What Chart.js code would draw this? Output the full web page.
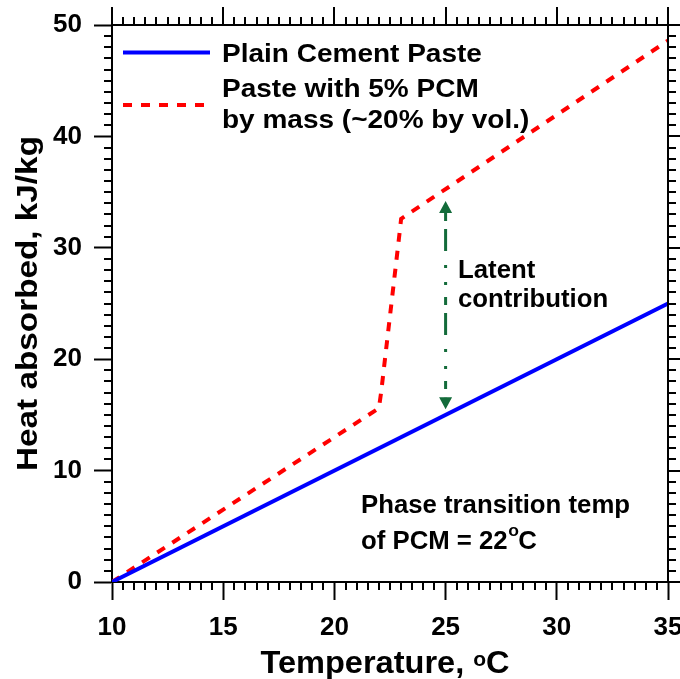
<!DOCTYPE html>
<html>
<head>
<meta charset="utf-8">
<script src="https://cdn.jsdelivr.net/npm/chart.js@4.4.1/dist/chart.umd.min.js"></script>
<style>
  html, body { margin: 0; padding: 0; background: #fff; }
  #wrap { width: 680px; height: 679px; }
</style>
</head>
<body>
<div id="wrap"><canvas id="c" width="680" height="679"></canvas></div>
<script>
// Heat absorbed vs temperature, plain paste and paste with PCM
const plainTemp = [10, 35];
const plainHeat = [0, 25];
const pcmTemp = [10, 22.0, 22.1, 22.9, 23.0, 35];
const pcmHeat = [0, 15.6, 17.0, 30.8, 32.6, 48.6];

const xTickValues = [10, 15, 20, 25, 30, 35];
const yTickValues = [0, 10, 20, 30, 40, 50];
const xMinorStep = 0.5;
const yMinorStep = 1;

const legendText = [
  ['Plain Cement Paste'],
  ['Paste with 5% PCM', 'by mass (~20% by vol.)']
];

// Latent heat arrow at 25 °C
const latentTemp = [25];
const latentRange = [15.5, 34.2];
const latentText = ['Latent', 'contribution'];
const transitionText = ['Phase transition temp', 'of PCM = 22', 'o', 'C'];
const xTitle = ['Temperature, ', 'o', 'C'];
const yTitle = 'Heat absorbed, kJ/kg';

const FONT = '"Liberation Sans", Arial, Helvetica, sans-serif';
const toPoints = (xs, ys) => xs.map((x, i) => ({ x, y: ys[i] }));

// text drawn slightly widened along its baseline
function wideText(ctx, str, x, y, size, stretch) {
  ctx.save();
  ctx.font = 'bold ' + size + 'px ' + FONT;
  ctx.translate(x, y);
  ctx.scale(stretch, 1);
  ctx.fillText(str, 0, 0);
  const w = ctx.measureText(str).width * stretch;
  ctx.restore();
  return w;
}
function textWidth(ctx, str, size, stretch) {
  ctx.save();
  ctx.font = 'bold ' + size + 'px ' + FONT;
  const w = ctx.measureText(str).width * stretch;
  ctx.restore();
  return w;
}

const framePlugin = {
  id: 'frame',
  afterDraw(chart) {
    const { ctx, chartArea: a, scales: { x, y } } = chart;
    ctx.save();
    ctx.strokeStyle = '#000';
    ctx.lineWidth = 2;
    ctx.lineCap = 'butt';
    // top and right border
    ctx.beginPath();
    ctx.moveTo(a.left - 1, a.top);
    ctx.lineTo(a.right, a.top);
    ctx.lineTo(a.right, a.bottom + 1);
    ctx.stroke();

    const isMajor = (v, list) => list.some(t => Math.abs(t - v) < 1e-6);
    ctx.beginPath();
    for (let v = x.min; v <= x.max + 1e-6; v += xMinorStep) {
      const px = Math.round(x.getPixelForValue(v));
      const major = isMajor(v, xTickValues);
      const len = major ? 18 : 8;
      if (!major) { ctx.moveTo(px, a.bottom); ctx.lineTo(px, a.bottom + len); }
      ctx.moveTo(px, a.top); ctx.lineTo(px, a.top - len);
    }
    for (let v = y.min; v <= y.max + 1e-6; v += yMinorStep) {
      const py = Math.round(y.getPixelForValue(v));
      const major = isMajor(v, yTickValues);
      const len = major ? 18 : 8;
      if (!major) { ctx.moveTo(a.left, py); ctx.lineTo(a.left - len, py); }
      ctx.moveTo(a.right, py); ctx.lineTo(a.right + len, py);
    }
    ctx.stroke();

    // legend
    const ds = chart.data.datasets;
    const legendRows = [52.5, 105];
    const textRows = [[62], [97, 128]];
    ctx.fillStyle = '#000';
    ctx.textBaseline = 'alphabetic';
    ctx.textAlign = 'left';
    ds.forEach((d, i) => {
      ctx.save();
      ctx.strokeStyle = d.borderColor;
      ctx.lineWidth = d.borderWidth;
      ctx.setLineDash(d.borderDash || []);
      ctx.beginPath();
      ctx.moveTo(123, legendRows[i]);
      ctx.lineTo(210, legendRows[i]);
      ctx.stroke();
      ctx.restore();
      legendText[i].forEach((t, j) => wideText(ctx, t, 222, textRows[i][j], 25, 1.12));
    });

    // latent contribution arrow
    const ax = x.getPixelForValue(latentTemp[0]);
    const yTop = y.getPixelForValue(latentRange[1]);
    const yBot = y.getPixelForValue(latentRange[0]);
    const green = '#136b3a';
    const head = 12, half = 6.5;
    ctx.fillStyle = green;
    ctx.beginPath();
    ctx.moveTo(ax, yTop); ctx.lineTo(ax - half, yTop + head); ctx.lineTo(ax + half, yTop + head); ctx.closePath();
    ctx.moveTo(ax, yBot); ctx.lineTo(ax - half, yBot - head); ctx.lineTo(ax + half, yBot - head); ctx.closePath();
    ctx.fill();
    ctx.strokeStyle = green;
    ctx.lineWidth = 3;
    ctx.setLineDash([8, 8, 22, 14, 3, 14, 3, 12]);
    ctx.beginPath();
    ctx.moveTo(ax, yTop + head);
    ctx.lineTo(ax, yBot - head);
    ctx.stroke();
    ctx.setLineDash([]);

    ctx.fillStyle = '#000';
    wideText(ctx, latentText[0], 458, 278, 25, 1.03);
    wideText(ctx, latentText[1], 458, 307, 25, 1.03);

    // phase transition note
    wideText(ctx, transitionText[0], 361, 513, 25, 1.03);
    let tx = 361;
    tx += wideText(ctx, transitionText[1], tx, 549, 25, 1.03);
    tx += wideText(ctx, transitionText[2], tx + 0.5, 536, 17, 1.03);
    wideText(ctx, transitionText[3], tx, 549, 25, 1.03);

    // axis titles
    const w0 = textWidth(ctx, xTitle[0], 31, 1.05);
    const wo = textWidth(ctx, xTitle[1], 20, 1.05);
    const wC = textWidth(ctx, xTitle[2], 31, 1.05);
    let sx = (a.left + a.right) / 2 - (w0 + wo + wC) / 2 - 5;
    sx += wideText(ctx, xTitle[0], sx, 673, 31, 1.05);
    sx += wideText(ctx, xTitle[1], sx, 666, 20, 1.05);
    wideText(ctx, xTitle[2], sx, 673, 31, 1.05);

    ctx.save();
    ctx.translate(37, (a.top + a.bottom) / 2);
    ctx.rotate(-Math.PI / 2);
    const wy = textWidth(ctx, yTitle, 30, 1.11);
    wideText(ctx, yTitle, -wy / 2, 0, 30, 1.11);
    ctx.restore();

    ctx.restore();
  }
};

new Chart(document.getElementById('c'), {
  type: 'scatter',
  data: {
    datasets: [
      {
        label: legendText[0].join(' '),
        data: toPoints(plainTemp, plainHeat),
        showLine: true,
        borderColor: '#0000ff',
        borderWidth: 4,
        pointRadius: 0,
        fill: false
      },
      {
        label: legendText[1].join(' '),
        data: toPoints(pcmTemp, pcmHeat),
        showLine: true,
        borderColor: '#ff0000',
        borderWidth: 4,
        borderDash: [9, 9],
        pointRadius: 0,
        fill: false
      }
    ]
  },
  options: {
    responsive: false,
    animation: false,
    devicePixelRatio: 1,
    layout: { padding: { top: 25, right: 12, left: 0, bottom: 0 } },
    plugins: { legend: { display: false }, tooltip: { enabled: false } },
    scales: {
      x: {
        type: 'linear',
        position: 'bottom',
        min: 10,
        max: 35,
        afterFit: s => { s.height = 97; s.paddingLeft = 0; s.paddingRight = 0; },
        afterBuildTicks: s => { s.ticks = xTickValues.map(v => ({ value: v })); },
        ticks: {
          autoSkip: false,
          maxRotation: 0,
          padding: 12,
          color: '#000',
          font: { family: FONT, size: 26, weight: 'bold' }
        },
        grid: { drawOnChartArea: false, drawTicks: true, tickLength: 18, tickWidth: 2, tickColor: '#000', color: '#000' },
        border: { display: true, color: '#000', width: 2 }
      },
      y: {
        type: 'linear',
        position: 'left',
        min: 0,
        max: 50,
        afterFit: s => { s.width = 112; s.paddingTop = 0; s.paddingBottom = 0; },
        afterBuildTicks: s => { s.ticks = yTickValues.map(v => ({ value: v })); },
        ticks: {
          padding: 12,
          color: '#000',
          font: { family: FONT, size: 26, weight: 'bold' }
        },
        grid: { drawOnChartArea: false, drawTicks: true, tickLength: 18, tickWidth: 2, tickColor: '#000', color: '#000' },
        border: { display: true, color: '#000', width: 2 }
      }
    }
  },
  plugins: [framePlugin]
});
</script>
</body>
</html>
